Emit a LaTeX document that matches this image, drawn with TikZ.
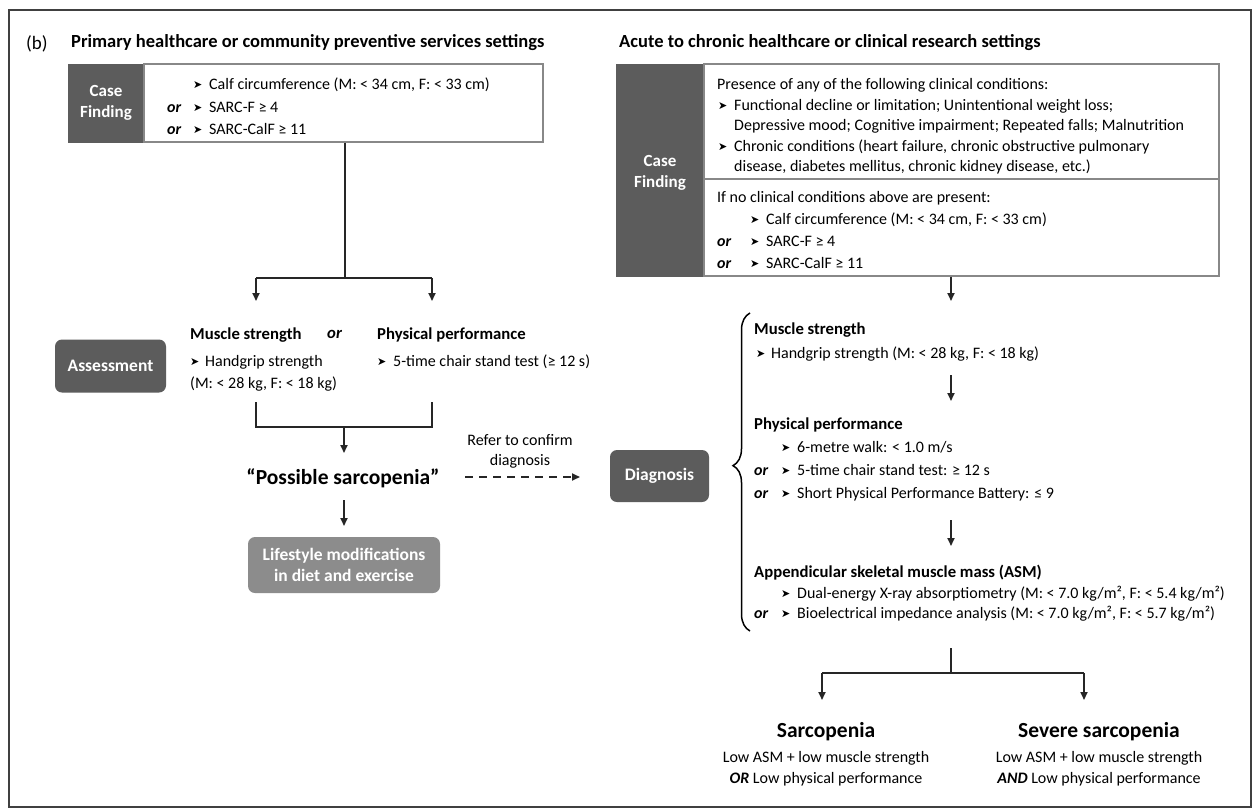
\documentclass[tikz,border=0pt]{standalone}
\usepackage{fontspec}
\setmainfont{Carlito}
\newfontfamily\dejavu{DejaVu Sans}
\usetikzlibrary{arrows.meta,decorations.pathreplacing,calc}
\definecolor{boxdark}{HTML}{5C5C5C}
\definecolor{boxlight}{HTML}{8C8C8C}
\definecolor{boxedge}{HTML}{888888}
\newcommand\bulg{{\dejavu\fontsize{11}{11}\selectfont\raisebox{0.3pt}{➤}}}
\newcommand\bul{\makebox[16pt][l]{\bulg}}
\newcommand\orr{\textbf{\textit{or}}}
\begin{document}
\begin{tikzpicture}[x=1pt,y=-1pt,
  t/.style={anchor=base west, inner sep=0pt, font=\fontsize{16}{19}\selectfont},
  tc/.style={anchor=base, inner sep=0pt, font=\fontsize{16}{19}\selectfont},
  hd/.style={anchor=base west, inner sep=0pt, font=\fontsize{16.7}{19}\selectfont\bfseries},
  ttl/.style={anchor=base west, inner sep=0pt, font=\fontsize{18.5}{21}\selectfont\bfseries},
  big/.style={anchor=base, inner sep=0pt, font=\fontsize{21.5}{24}\selectfont\bfseries},
  dk/.style={fill=boxdark, draw=boxdark, inner sep=0pt},
  wb/.style={fill=white, draw=boxedge, line width=1.1pt, inner sep=0pt},
  wtxt/.style={text=white, font=\fontsize{17}{21}\selectfont\bfseries, align=center, inner sep=0pt},
  rbox/.style={rounded corners=7pt, inner sep=0pt, text=white, font=\fontsize{17.5}{21}\selectfont\bfseries, align=center},
  conn/.style={line width=1.7pt, black!85},
  arr/.style={conn, -{Triangle[length=8pt,width=7pt]}},
]
\useasboundingbox (0,0) rectangle (1253,809);
\fill[white] (0,0) rectangle (1253,809);
\draw[line width=1.2pt, black!75] (9,10) rectangle (1251,807);

% titles
\node[anchor=base west, inner sep=0pt, font=\fontsize{19}{21}\selectfont] (pb) at (26,49) {(b)};
\node[ttl] (ttlL) at (71,47) {Primary healthcare or community preventive services settings};
\node[ttl] (ttlR) at (619,47) {Acute to chronic healthcare or clinical research settings};

% ---------- left case finding ----------
\node[dk, minimum width=76pt, minimum height=78pt] (cfLd) at (106,103) {};
\node[wtxt] (cfLt) at (cfLd.center) {Case\\Finding};
\node[wb, minimum width=399pt, minimum height=78pt] (cfLw) at (343.5,103) {};
\node[t] (l1) at (193,89) {\bul Calf circumference (M: < 34 cm, F: < 33 cm)};
\node[t] (l2o) at (167,112) {\orr};
\node[t] (l2) at (193,112) {\bul SARC-F ≥ 4};
\node[t] (l3o) at (167,134) {\orr};
\node[t] (l3) at (193,134) {\bul SARC-CalF ≥ 11};

% split
\coordinate (jL) at (345,278);
\coordinate (jLa) at (256,278);
\coordinate (jLb) at (432,278);
\coordinate (tMS) at (256,301);
\coordinate (tPP) at (432,301);
\draw[conn] (jL |- cfLw.south) -- (jL);
\draw[conn] (jLa) -- (jLb);
\draw[arr] (jLa) -- (tMS);
\draw[arr] (jLb) -- (tPP);

% assessment
\node[rbox, fill=boxdark, minimum width=111pt, minimum height=53pt] (asm) at (110.5,366) {Assessment};
\node[hd] (ms) at (190,339) {Muscle strength};
\node[anchor=base west, inner sep=0pt, font=\fontsize{16.7}{19}\selectfont\bfseries\itshape] (msor) at (327,338) {or};
\node[hd] (pp) at (377,339) {Physical performance};
\node[t] (hg) at (190,366) {\makebox[15pt][l]{\bulg}Handgrip strength};
\node[t] (hg2) at (190,388) {(M: < 28 kg, F: < 18 kg)};
\node[t] (cs) at (377,366) {\bul 5-time chair stand test (≥ 12 s)};

% merge
\coordinate (mA) at (256,402);
\coordinate (mB) at (432,402);
\coordinate (mAb) at (256,427);
\coordinate (mBb) at (432,427);
\coordinate (mC) at (344,427);
\coordinate (mCt) at (344,453);
\draw[conn] (mA) -- (mAb) -- (mBb) -- (mB);
\draw[arr] (mC) -- (mCt);

\node[big] (poss) at (343,484) {“Possible sarcopenia”};
\coordinate (pA) at (344,500);
\coordinate (pB) at (344,526);
\draw[arr] (pA) -- (pB);
\node[rbox, fill=boxlight, minimum width=192pt, minimum height=56pt] (life) at (344,565) {Lifestyle modifications\\in diet and exercise};

% refer
\node[tc] (ref1) at (520,445) {Refer to confirm};
\node[tc] (ref2) at (520,465) {diagnosis};
\coordinate (rA) at (465,477);
\coordinate (rB) at (580,477);
\draw[conn, dash pattern=on 8pt off 6pt, -{Triangle[length=8pt,width=7pt]}] (rA) -- (rB);

% ---------- right case finding ----------
\node[dk, minimum width=88pt, minimum height=212pt] (cfRd) at (660,170) {};
\node[wtxt] (cfRt) at (660,173) {Case\\Finding};
\node[wb, minimum width=515pt, minimum height=212pt] (cfRw) at (961.5,170) {};
\coordinate (divy) at (0,179);
\draw[draw=boxedge, line width=1.1pt] (cfRw.west |- divy) -- (cfRw.east |- divy);
\node[t] (r1) at (717,89) {Presence of any of the following clinical conditions:};
\node[t] (r2) at (718,110) {\bul Functional decline or limitation; Unintentional weight loss;};
\node[t] (r3) at (734,130) {Depressive mood; Cognitive impairment; Repeated falls; Malnutrition};
\node[t] (r4) at (718,151) {\bul Chronic conditions (heart failure, chronic obstructive pulmonary};
\node[t] (r5) at (734,171) {disease, diabetes mellitus, chronic kidney disease, etc.)};
\node[t] (r6) at (717,202) {If no clinical conditions above are present:};
\node[t] (r7) at (750,224) {\bul Calf circumference (M: < 34 cm, F: < 33 cm)};
\node[t] (r8o) at (717,246) {\orr};
\node[t] (r8) at (750,246) {\bul SARC-F ≥ 4};
\node[t] (r9o) at (717,268) {\orr};
\node[t] (r9) at (750,268) {\bul SARC-CalF ≥ 11};

\coordinate (aR) at (951,301);
\draw[arr] (aR |- cfRw.south) -- (aR);

% ---------- diagnosis ----------
\node[rbox, fill=boxdark, minimum width=99pt, minimum height=52pt] (diag) at (659.5,476) {Diagnosis};
\coordinate (brB) at (750,631);
\coordinate (brT) at (750,313);
\draw[line width=1.5pt, decorate, decoration={brace, amplitude=17pt, aspect=0.52}] (brB) -- (brT);

\node[hd] (dms) at (754,334) {Muscle strength};
\node[t] (dhg) at (756,358) {\makebox[15pt][l]{\bulg}Handgrip strength (M: < 28 kg, F: < 18 kg)};
\coordinate (d1a) at (951,375);
\coordinate (d1b) at (951,401);
\draw[arr] (d1a) -- (d1b);
\node[hd] (dpp) at (754,429) {Physical performance};
\node[t] (dw) at (781,452) {\bul 6-metre walk: < 1.0 m/s};
\node[t] (dco) at (754,475) {\orr};
\node[t] (dc) at (781,475) {\bul 5-time chair stand test: ≥ 12 s};
\node[t] (dso) at (754,498) {\orr};
\node[t] (ds) at (781,498) {\bul Short Physical Performance Battery: ≤ 9};
\coordinate (d2a) at (951,520);
\coordinate (d2b) at (951,546);
\draw[arr] (d2a) -- (d2b);
\node[hd] (dasm) at (754,577) {Appendicular skeletal muscle mass (ASM)};
\node[t] (dx) at (781,598) {\bul Dual-energy X-ray absorptiometry (M: < 7.0 kg/m², F: < 5.4 kg/m²)};
\node[t] (dbo) at (754,618) {\orr};
\node[t] (db) at (781,618) {\bul Bioelectrical impedance analysis (M: < 7.0 kg/m², F: < 5.7 kg/m²)};

% ---------- outcome ----------
\coordinate (o0) at (951,648);
\coordinate (oj) at (951,673);
\coordinate (oL) at (822,673);
\coordinate (oR) at (1084,673);
\coordinate (oLt) at (822,700);
\coordinate (oRt) at (1084,700);
\draw[conn] (o0) -- (oj);
\draw[conn] (oL) -- (oR);
\draw[arr] (oL) -- (oLt);
\draw[arr] (oR) -- (oRt);

\node[big] (sar) at (826,737) {Sarcopenia};
\node[tc] (sar1) at (826,762) {Low ASM + low muscle strength};
\node[tc] (sar2) at (826,783) {\textbf{\textit{OR}} Low physical performance};
\node[big] (sev) at (1099,737) {Severe sarcopenia};
\node[tc] (sev1) at (1099,762) {Low ASM + low muscle strength};
\node[tc] (sev2) at (1099,783) {\textbf{\textit{AND}} Low physical performance};
\end{tikzpicture}
\end{document}
